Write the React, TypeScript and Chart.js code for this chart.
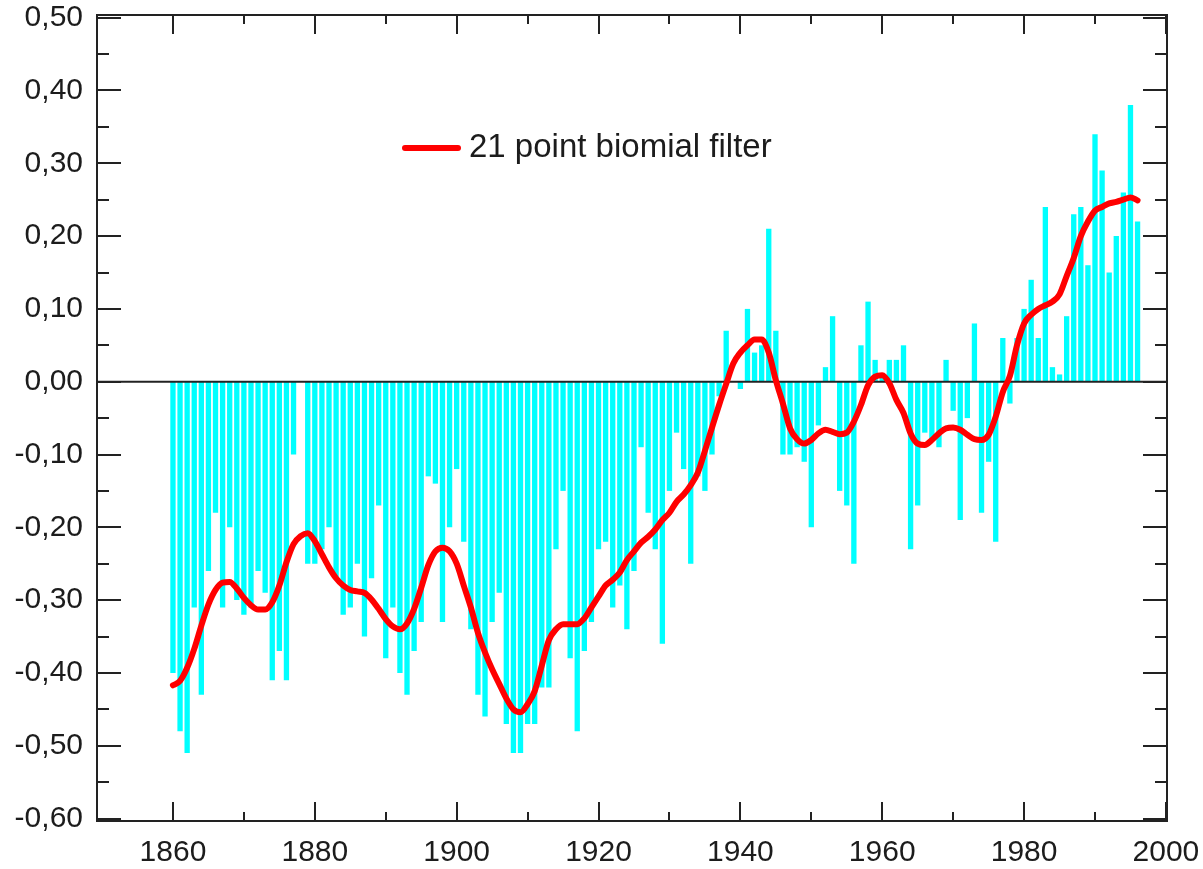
import React, { useEffect, useRef } from "react";
import { Chart, registerables } from "chart.js";

Chart.register(...registerables);

// ---- data ----
const FIRST_YEAR = 1860;

// yearly anomalies, 1860 .. 1996
const ANOMALY = [
  -0.40, -0.48, -0.51, -0.31, -0.43, -0.26, -0.18, -0.31, -0.20, -0.30,
  -0.32, -0.31, -0.26, -0.29, -0.41, -0.37, -0.41, -0.10, 0.00, -0.25,
  -0.25, -0.23, -0.20, -0.27, -0.32, -0.31, -0.25, -0.35, -0.27, -0.17,
  -0.38, -0.31, -0.40, -0.43, -0.37, -0.33, -0.13, -0.14, -0.33, -0.20,
  -0.12, -0.22, -0.34, -0.43, -0.46, -0.33, -0.29, -0.47, -0.51, -0.51,
  -0.47, -0.47, -0.42, -0.42, -0.23, -0.15, -0.38, -0.48, -0.37, -0.33,
  -0.23, -0.22, -0.31, -0.28, -0.34, -0.26, -0.09, -0.18, -0.23, -0.36,
  -0.15, -0.07, -0.12, -0.25, -0.13, -0.15, -0.10, -0.02, 0.07, 0.00,
  -0.01, 0.10, 0.04, 0.05, 0.21, 0.07, -0.10, -0.10, -0.09, -0.11,
  -0.20, -0.06, 0.02, 0.09, -0.15, -0.17, -0.25, 0.05, 0.11, 0.03,
  0.01, 0.03, 0.03, 0.05, -0.23, -0.17, -0.07, -0.08, -0.09, 0.03,
  -0.04, -0.19, -0.05, 0.08, -0.18, -0.11, -0.22, 0.06, -0.03, 0.06,
  0.10, 0.14, 0.06, 0.24, 0.02, 0.01, 0.09, 0.23, 0.24, 0.16,
  0.34, 0.29, 0.15, 0.20, 0.26, 0.38, 0.22,
];

// 21 point binomial filter curve, 1860 .. 1996
const FILTERED = [
  -0.417, -0.411, -0.393, -0.367, -0.335, -0.306, -0.286, -0.276, -0.275, -0.284,
  -0.297, -0.307, -0.313, -0.313, -0.303, -0.280, -0.248, -0.223, -0.212, -0.208,
  -0.219, -0.237, -0.255, -0.270, -0.280, -0.286, -0.288, -0.290, -0.299, -0.312,
  -0.326, -0.336, -0.340, -0.332, -0.312, -0.283, -0.252, -0.233, -0.228, -0.233,
  -0.250, -0.280, -0.310, -0.345, -0.372, -0.395, -0.415, -0.435, -0.450, -0.454,
  -0.443, -0.425, -0.390, -0.355, -0.340, -0.333, -0.333, -0.333, -0.325, -0.310,
  -0.295, -0.280, -0.272, -0.262, -0.245, -0.233, -0.221, -0.213, -0.203, -0.190,
  -0.180, -0.165, -0.155, -0.142, -0.125, -0.095, -0.063, -0.032, -0.003, 0.025,
  0.040, 0.050, 0.058, 0.058, 0.040, 0.002, -0.030, -0.064, -0.079, -0.085,
  -0.080, -0.071, -0.066, -0.069, -0.072, -0.070, -0.055, -0.032, -0.005, 0.007,
  0.009, -0.002, -0.025, -0.043, -0.071, -0.085, -0.087, -0.080, -0.071, -0.064,
  -0.063, -0.066, -0.073, -0.079, -0.080, -0.073, -0.048, -0.014, 0.008, 0.050,
  0.080, 0.092, 0.100, 0.105, 0.110, 0.120, 0.145, 0.170, 0.200, 0.220,
  0.235, 0.240, 0.245, 0.247, 0.250, 0.253, 0.249,
];

const YEARS = ANOMALY.map((_, i) => FIRST_YEAR + i);

const Y_TICKS = [-0.6, -0.5, -0.4, -0.3, -0.2, -0.1, 0, 0.1, 0.2, 0.3, 0.4, 0.5];
const Y_MINOR = [-0.55, -0.45, -0.35, -0.25, -0.15, -0.05, 0.05, 0.15, 0.25, 0.35, 0.45];
const X_TICKS = [1860, 1880, 1900, 1920, 1940, 1960, 1980, 2000];
const X_MINOR = [1870, 1890, 1910, 1930, 1950, 1970, 1990];

const LEGEND_LABEL = "21 point biomial filter";

// ---- styles ----
const FONT = "'Liberation Sans', Arial, sans-serif";
const TEXT_COLOR = "#1c1c1c";
const AXIS_COLOR = "#222222";
const BAR_COLOR = "#00ffff";
const LINE_COLOR = "#ff0000";

const framePlugin = {
  id: "frameAndTicks",
  afterDatasetDraw(chart: any, args: any) {
    if (args.index !== 0) return;
    const { ctx, chartArea, scales } = chart;
    const y0 = scales.y.getPixelForValue(0);
    ctx.save();
    ctx.strokeStyle = AXIS_COLOR;
    ctx.lineWidth = 2;
    ctx.beginPath();
    ctx.moveTo(chartArea.left, y0);
    ctx.lineTo(chartArea.right, y0);
    ctx.stroke();
    ctx.restore();
  },
  afterDraw(chart: any) {
    const { ctx, chartArea, scales } = chart;
    const { left, right, top, bottom } = chartArea;
    ctx.save();
    ctx.strokeStyle = AXIS_COLOR;
    ctx.lineWidth = 2;
    ctx.strokeRect(left, top, right - left, bottom - top);

    const hTick = (v: number, len: number) => {
      const y = Math.round(scales.y.getPixelForValue(v));
      ctx.beginPath();
      ctx.moveTo(left, y);
      ctx.lineTo(left + len, y);
      ctx.moveTo(right, y);
      ctx.lineTo(right - len, y);
      ctx.stroke();
    };
    const vTick = (v: number, len: number) => {
      const x = Math.round(scales.x.getPixelForValue(v));
      ctx.beginPath();
      ctx.moveTo(x, bottom);
      ctx.lineTo(x, bottom - len);
      ctx.moveTo(x, top);
      ctx.lineTo(x, top + len);
      ctx.stroke();
    };
    Y_TICKS.forEach((v) => hTick(v, 24));
    Y_MINOR.forEach((v) => hTick(v, 12));
    X_TICKS.forEach((v) => vTick(v, 19));
    X_MINOR.forEach((v) => vTick(v, 9));

    // legend
    const ly = 148;
    ctx.strokeStyle = LINE_COLOR;
    ctx.lineWidth = 6;
    ctx.lineCap = "round";
    ctx.beginPath();
    ctx.moveTo(405, ly);
    ctx.lineTo(458, ly);
    ctx.stroke();
    ctx.fillStyle = TEXT_COLOR;
    ctx.font = `33px ${FONT}`;
    ctx.textAlign = "left";
    ctx.textBaseline = "middle";
    ctx.fillText(LEGEND_LABEL, 469, ly);
    ctx.restore();
  },
};

export default function App() {
  const ref = useRef<HTMLCanvasElement>(null);

  useEffect(() => {
    if (!ref.current) return;
    const chart = new Chart(ref.current, {
      type: "bar",
      data: {
        datasets: [
          {
            type: "bar",
            label: "annual",
            data: YEARS.map((yr, i) => ({ x: yr, y: ANOMALY[i] })),
            backgroundColor: BAR_COLOR,
            borderWidth: 0,
            barPercentage: 0.75,
            categoryPercentage: 1,
            order: 2,
          } as any,
          {
            type: "line",
            label: LEGEND_LABEL,
            data: YEARS.map((yr, i) => ({ x: yr, y: FILTERED[i] })),
            borderColor: LINE_COLOR,
            borderWidth: 6,
            pointRadius: 0,
            cubicInterpolationMode: "monotone",
            borderCapStyle: "round",
            borderJoinStyle: "round",
            fill: false,
            order: 1,
          } as any,
        ],
      },
      options: {
        responsive: false,
        animation: false,
        devicePixelRatio: 1,
        layout: { padding: { left: 0, top: 15, right: 36, bottom: 0 } },
        plugins: { legend: { display: false }, tooltip: { enabled: false } },
        scales: {
          x: {
            type: "linear",
            min: 1849.29,
            max: 2000.15,
            offset: false,
            grid: { display: false, drawTicks: false },
            border: { display: false },
            afterBuildTicks: (s: any) => {
              s.ticks = X_TICKS.map((v) => ({ value: v }));
            },
            afterFit: (s: any) => {
              s.height = 48;
              s.paddingLeft = 0;
              s.paddingRight = 0;
            },
            ticks: {
              autoSkip: false,
              maxRotation: 0,
              padding: 14,
              color: TEXT_COLOR,
              font: { family: FONT, size: 30 },
              callback: (v: any) => String(v),
            },
          },
          y: {
            type: "linear",
            min: -0.6034,
            max: 0.5037,
            grid: { display: false, drawTicks: false },
            border: { display: false },
            afterBuildTicks: (s: any) => {
              s.ticks = Y_TICKS.map((v) => ({ value: v }));
            },
            afterFit: (s: any) => {
              s.width = 97;
              s.paddingTop = 0;
              s.paddingBottom = 0;
            },
            ticks: {
              padding: 14,
              color: TEXT_COLOR,
              font: { family: FONT, size: 30 },
              callback: (v: any) => Number(v).toFixed(2).replace(".", ","),
            },
          },
        },
      } as any,
      plugins: [framePlugin],
    });
    return () => chart.destroy();
  }, []);

  return (
    <div style={{ position: "absolute", left: 0, top: 0, width: 1203, height: 869, background: "#ffffff" }}>
      <canvas ref={ref} width={1203} height={869} style={{ display: "block" }} />
    </div>
  );
}
